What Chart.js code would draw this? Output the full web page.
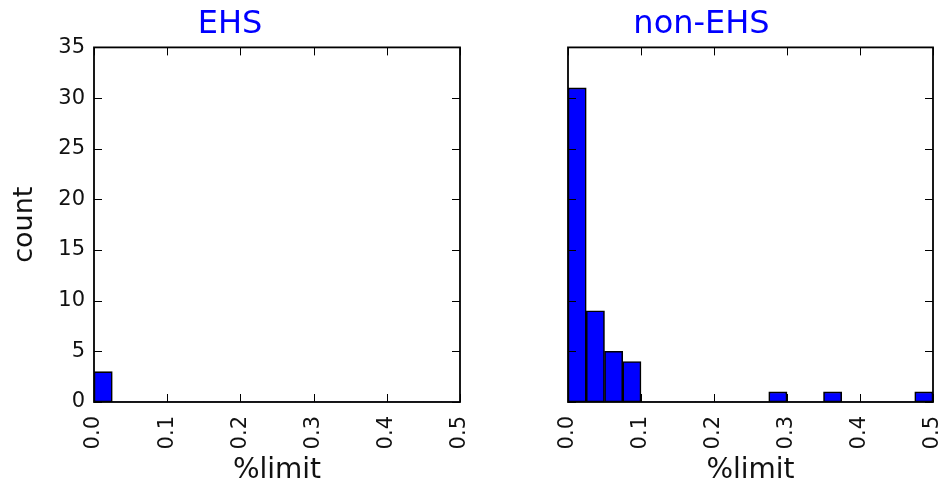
<!DOCTYPE html>
<html>
<head>
<meta charset="utf-8">
<script src="https://cdn.jsdelivr.net/npm/chart.js@4.4.0/dist/chart.umd.min.js"></script>
<style>
  body { margin: 0; background: #fff; }
  .wrap { position: relative; width: 942px; height: 491px; }
  canvas { position: absolute; top: 0; }
  #ehs { left: 0; z-index: 2; }
  #nonEhs { left: 470px; z-index: 1; }
</style>
</head>
<body>
<div class="wrap">
  <canvas id="ehs" width="490" height="491" style="width:490px;height:491px"></canvas>
  <canvas id="nonEhs" width="472" height="491" style="width:472px;height:491px"></canvas>
</div>
<script>
// histogram bins (left edges, width 0.025)
const binStarts = [0.0, 0.025, 0.05, 0.075, 0.1, 0.125, 0.15, 0.175, 0.2, 0.225,
                   0.25, 0.275, 0.3, 0.325, 0.35, 0.375, 0.4, 0.425, 0.45, 0.475];
const ehsCounts    = [3, 0, 0, 0, 0, 0, 0, 0, 0, 0, 0, 0, 0, 0, 0, 0, 0, 0, 0, 0];
const nonEhsCounts = [31, 9, 5, 4, 0, 0, 0, 0, 0, 0, 0, 1, 0, 0, 1, 0, 0, 0, 0, 1];
const countMax = 35;
const limitMax = 0.5;

Chart.defaults.font.family = "'DejaVu Sans', sans-serif";
Chart.defaults.color = "#111";

// box around the axes plus inward tick marks on all four sides
const framePlugin = {
  id: "frame",
  afterDatasetsDraw(chart) {
    const { ctx, chartArea: a } = chart;
    const xs = chart.scales.pct, ys = chart.scales.y;
    const len = 8;
    ctx.save();
    ctx.strokeStyle = "#000";
    ctx.lineWidth = 1;
    ctx.beginPath();
    xs.ticks.forEach(t => {
      const px = Math.round(xs.getPixelForValue(t.value)) + 0.5;
      ctx.moveTo(px, a.bottom); ctx.lineTo(px, a.bottom - len);
      ctx.moveTo(px, a.top); ctx.lineTo(px, a.top + len);
    });
    ys.ticks.forEach(t => {
      const py = Math.round(ys.getPixelForValue(t.value)) + 0.5;
      ctx.moveTo(a.left, py); ctx.lineTo(a.left + len, py);
      ctx.moveTo(a.right, py); ctx.lineTo(a.right - len, py);
    });
    ctx.stroke();
    ctx.lineWidth = 1.8;
    ctx.strokeRect(a.left, a.top, a.right - a.left, a.bottom - a.top);
    ctx.restore();
  }
};

function histogram(id, title, counts, showY, leftWidth, rightPad) {
  new Chart(document.getElementById(id), {
    type: "bar",
    data: {
      labels: binStarts.map(String),
      datasets: [{
        data: counts,
        backgroundColor: "#0000ff",
        borderColor: "#000",
        borderWidth: ctx => (ctx.raw ? 1.6 : 0),
        borderSkipped: false,
        barPercentage: 1,
        categoryPercentage: 1,
      }],
    },
    options: {
      responsive: false,
      animation: false,
      layout: { padding: { left: 0, right: rightPad, top: 0, bottom: 0 } },
      plugins: {
        legend: { display: false },
        tooltip: { enabled: false },
        title: {
          display: true,
          text: title,
          color: "#0000ff",
          font: { size: 32, weight: "normal", lineHeight: 1.2 },
          padding: { top: 5, bottom: 4 },
        },
      },
      scales: {
        x: { display: false, offset: true },
        pct: {
          type: "linear",
          position: "bottom",
          offset: false,
          min: 0,
          max: limitMax,
          grid: { display: false, drawTicks: false, offset: false },
          border: { display: false },
          ticks: {
            stepSize: 0.1,
            minRotation: 90,
            maxRotation: 90,
            padding: 14,
            font: { size: 21 },
            color: "#111",
            callback: v => v.toFixed(1),
          },
          title: {
            display: true,
            text: "%limit",
            color: "#111",
            font: { size: 28 },
            padding: { top: 0, bottom: 3 },
          },
          afterFit: s => {
            s.height = 89;
            // rotated end labels may hang past the plot edges
            s.paddingLeft = 0;
            s.paddingRight = 0;
          },
        },
        y: {
          min: 0,
          max: countMax,
          grid: { display: false, drawTicks: false },
          border: { display: false },
          ticks: { stepSize: 5, padding: 9, font: { size: 21 }, display: showY, color: "#111" },
          title: {
            display: showY,
            text: "count",
            color: "#111",
            font: { size: 27 },
            padding: { top: 9, bottom: 0 },
          },
          afterFit: s => { s.width = leftWidth; },
        },
      },
    },
    plugins: [framePlugin],
  });
}

histogram("ehs", "EHS", ehsCounts, true, 94, 30);
histogram("nonEhs", "non-EHS", nonEhsCounts, false, 98, 9);
</script>
</body>
</html>
